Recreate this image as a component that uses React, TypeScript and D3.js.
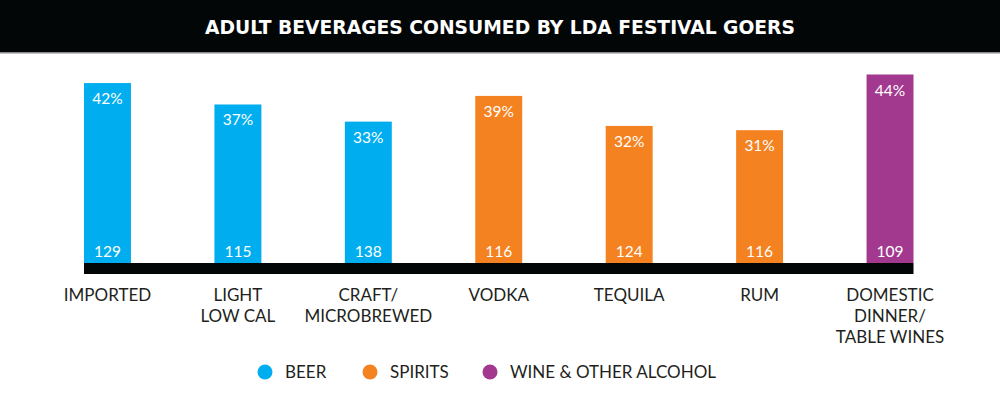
import * as d3 from 'd3';

const categories = [
  ['IMPORTED'],
  ['LIGHT', 'LOW CAL'],
  ['CRAFT/', 'MICROBREWED'],
  ['VODKA'],
  ['TEQUILA'],
  ['RUM'],
  ['DOMESTIC', 'DINNER/', 'TABLE WINES'],
];
const groups = ['beer', 'beer', 'beer', 'spirits', 'spirits', 'spirits', 'wine'];
const percents = [42, 37, 33, 39, 32, 31, 44];
const counts = [129, 115, 138, 116, 124, 116, 109];

const legendKeys = ['beer', 'spirits', 'wine'];
const legendLabels = ['BEER', 'SPIRITS', 'WINE & OTHER ALCOHOL'];

const width = 1000;
const height = 394;
const font = 'Lato, "Open Sans", sans-serif';

export default function App() {
  const x = d3
    .scaleBand<number>()
    .domain(d3.range(categories.length))
    .range([84, 913.5])
    .paddingInner(0.64)
    .paddingOuter(0);

  const y = d3.scaleLinear().domain([0, 44]).range([263, 74.5]);

  const color = d3
    .scaleOrdinal<string, string>()
    .domain(legendKeys)
    .range(['#00aeef', '#f58220', '#a3388f']);

  // legend item positions (circle centers)
  const legendX = d3.scaleOrdinal<string, number>().domain(legendKeys).range([265, 370, 490]);

  return (
    <svg
      width={width}
      height={height}
      style={{ position: 'absolute', left: 0, top: 0, background: '#fff' }}
    >
      <rect x={0} y={0} width={width} height={52} fill="#030607" />
      <rect x={0} y={52} width={width} height={1.5} fill="#8a8a8a" />
      <text
        x={500}
        y={33.5}
        textAnchor="middle"
        fill="#fff"
        fontFamily='"DejaVu Sans Condensed", "Liberation Sans Narrow", sans-serif'
        fontWeight="bold"
        fontSize={19.5}
        textLength={590}
        lengthAdjust="spacingAndGlyphs"
      >
        ADULT BEVERAGES CONSUMED BY LDA FESTIVAL GOERS
      </text>

      {percents.map((p, i) => {
        const bx = x(i) as number;
        const bw = x.bandwidth();
        const top = y(p);
        const c = color(groups[i]);
        return (
          <g key={i}>
            <rect x={bx} y={top} width={bw} height={y(0) - top} fill={c} />
            <text
              x={bx + bw / 2}
              y={top + 21}
              textAnchor="middle"
              fill="#fff"
              fontFamily={font}
              fontSize={15.5}
            >
              {p}%
            </text>
            <text
              x={bx + bw / 2}
              y={257}
              textAnchor="middle"
              fill="#fff"
              fontFamily={font}
              fontSize={15.5}
            >
              {counts[i]}
            </text>
            {categories[i].map((line, j) => (
              <text
                key={j}
                x={bx + bw / 2}
                y={301 + j * 21}
                textAnchor="middle"
                fill="#231f20"
                fontFamily={font}
                fontSize={17}
              >
                {line}
              </text>
            ))}
          </g>
        );
      })}

      <rect
        x={x(0) as number}
        y={263}
        width={(x(categories.length - 1) as number) + x.bandwidth() - (x(0) as number)}
        height={11}
        fill="#030607"
      />

      {legendKeys.map((k, i) => (
        <g key={k}>
          <circle cx={legendX(k)} cy={372} r={7.5} fill={color(k)} />
          <text
            x={legendX(k) + 20}
            y={378}
            fill="#231f20"
            fontFamily={font}
            fontSize={17}
          >
            {legendLabels[i]}
          </text>
        </g>
      ))}
    </svg>
  );
}
